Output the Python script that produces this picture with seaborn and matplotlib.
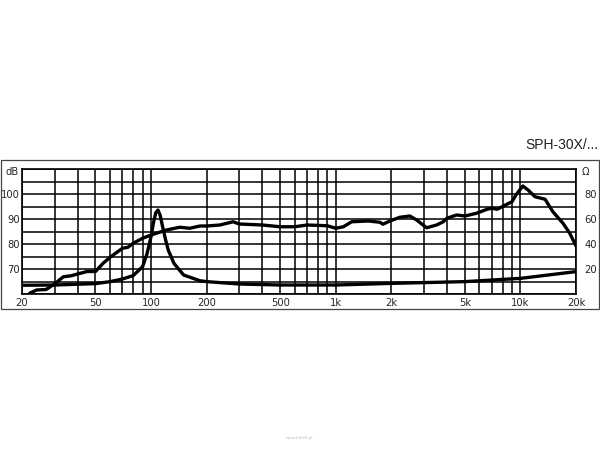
import seaborn as sns
import pandas as pd
import matplotlib.pyplot as plt
import matplotlib.patches as patches
import numpy as np

# frequency response (Hz, dB)
spl_freq = [22, 24, 27, 30, 33.5, 37, 40, 45, 50, 55, 60, 70, 75, 80, 90, 100, 121, 143, 162, 184,
            200, 236, 278, 300, 400, 500, 600, 700, 900, 1000, 1100, 1220, 1500, 1736, 1800, 1965, 2226,
            2520, 2741, 3105, 3518, 3820, 4000, 4510, 5000, 5790, 6600, 7000, 7500, 8500, 9000, 9460,
            10300, 11000, 12000, 13600, 15000, 17000, 18500, 20000]
spl_db = [60.3, 61.6, 61.8, 64.0, 66.9, 67.3, 68.0, 69.0, 69.0, 72.3, 74.7, 78.3, 78.7, 80.3, 82.3, 83.6, 85.6, 86.7, 86.3, 87.2,
          87.2, 87.6, 88.9, 88.0, 87.6, 86.9, 86.9, 87.6, 87.3, 86.3, 86.9, 88.9, 89.2, 88.7, 87.9, 89.2, 90.7,
          91.2, 89.6, 86.5, 87.6, 88.9, 90.3, 91.6, 91.2, 92.3, 93.9, 94.3, 93.9, 96.0, 96.9, 99.6,
          103.2, 101.6, 98.9, 97.9, 92.9, 88.3, 84.3, 79.2]

# impedance (Hz, ohm)
imp_freq = [20, 30, 50, 60, 70, 80, 90, 95, 100, 103, 106, 109, 112, 115, 120, 124, 133, 150, 184, 200, 300, 500, 1000,
            2000, 5000, 10000, 20000]
imp_ohm = [7.0, 7.2, 8.3, 9.9, 12.0, 14.7, 21.9, 32.0, 46.0, 57.0, 65.0, 67.2, 63.0, 55.0, 43.0, 35.0, 24.5, 15.2, 10.6, 9.9, 8.0, 7.2, 7.2,
           8.5, 9.9, 12.5, 17.9]

grid_freqs = [20, 30, 40, 50, 60, 70, 80, 90, 100, 200, 300, 400, 500, 600, 700, 800, 900,
              1000, 2000, 3000, 4000, 5000, 6000, 7000, 8000, 9000, 10000, 20000]
x_labels = {20: "20", 50: "50", 100: "100", 200: "200", 500: "500", 1000: "1k",
            2000: "2k", 5000: "5k", 10000: "10k", 20000: "20k"}
db_labels = [70, 80, 90, 100]
ohm_labels = [20, 40, 60, 80]

spl = pd.DataFrame({"freq": spl_freq, "db": spl_db})
imp = pd.DataFrame({"freq": imp_freq, "ohm": imp_ohm})

sns.set_style("white")
plt.rcParams['font.family'] = ['DejaVu Sans']

fig = plt.figure(figsize=(6, 4.5), dpi=100)
ax = fig.add_axes([22 / 600, 1 - 294 / 450, 554 / 600, 125 / 450])

sns.lineplot(data=spl, x="freq", y="db", ax=ax, color="black", lw=2.4)
ax.set_xscale("log")
ax.set_xlim(20, 20000)
ax.set_ylim(60, 110)

ax.set_xticks(grid_freqs)
ax.set_xticklabels([x_labels.get(f, "") for f in grid_freqs], fontsize=7.2)
ax.xaxis.set_minor_locator(plt.NullLocator())
ax.set_yticks(np.arange(60, 111, 5))
ax.set_yticklabels([str(v) if v in db_labels else "" for v in np.arange(60, 111, 5)], fontsize=7.2)
ax.tick_params(axis="x", length=0, pad=3)
ax.tick_params(axis="y", length=0, pad=1.5)
ax.grid(True, color="black", lw=1.1)
ax.set_axisbelow(True)
for s in ax.spines.values():
    s.set_color("black")
    s.set_linewidth(1.2)
ax.set_xlabel("")
ax.set_ylabel("")

ax2 = ax.twinx()
sns.lineplot(data=imp, x="freq", y="ohm", ax=ax2, color="black", lw=2.4)
ax2.set_ylim(0, 100)
ax2.set_yticks(ohm_labels)
ax2.set_yticklabels([str(v) for v in ohm_labels], fontsize=7.2)
ax2.tick_params(length=0, pad=6)
ax2.set_ylabel("")
ax2.grid(False)
for s in ax2.spines.values():
    s.set_visible(False)

fig.text(19 / 600, 1 - 172 / 450, "dB", ha="right", va="center", fontsize=7.2)
fig.text(585 / 600, 1 - 172 / 450, "Ω", ha="center", va="center", fontsize=7.2)
fig.text(598 / 600, 1 - 145 / 450, "SPH-30X/...", ha="right", va="center", fontsize=10,
         color="#222222", family="Liberation Sans")
fig.text(300 / 600, 1 - 438 / 450, "www.hifi24.pl", ha="center", va="center", fontsize=3, color="#bbbbbb")

fig.patches.append(patches.Rectangle((1 / 600, 1 - 309 / 450), 598 / 600, 149 / 450,
                                     transform=fig.transFigure, fill=False, edgecolor="#444444", lw=0.9))

fig.savefig("out.png", dpi=100)
